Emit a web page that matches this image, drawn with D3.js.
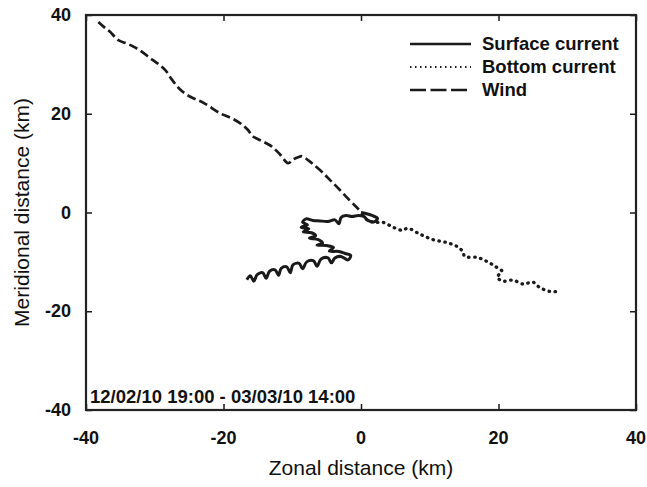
<!DOCTYPE html>
<html>
<head>
<meta charset="utf-8">
<script src="https://cdn.jsdelivr.net/npm/d3@7"></script>
<style>
  body { margin: 0; background: #fff; }
  svg { display: block; font-family: "Liberation Sans", Arial, sans-serif; }
  .tick-label { font-weight: bold; font-size: 18px; fill: #111; }
  .axis-title { font-size: 21px; fill: #111; }
  .legend-text { font-weight: bold; font-size: 18.5px; fill: #111; }
</style>
</head>
<body>
<svg id="chart"></svg>
<script>
// values (km)
var xTicks = [-40, -20, 0, 20, 40];
var yTicks = [-40, -20, 0, 20, 40];
var seriesNames = ["Surface current", "Bottom current", "Wind"];
var periodLabel = "12/02/10 19:00 - 03/03/10 14:00";

var windTrack = [
  [-38.2, 38.6], [-37.4, 37.6], [-36.5, 36.6], [-35.3, 34.9], [-34.2, 34.3], [-33.1, 33.6],
  [-31.9, 32.6], [-30.7, 31.3], [-29.6, 30.2], [-28.5, 28.9], [-27.5, 26.9], [-26.3, 24.9],
  [-24.9, 23.5], [-22.9, 22.2], [-20.5, 20.1], [-19.0, 19.2], [-17.6, 18.1], [-16.5, 16.8],
  [-15.7, 15.4], [-14.3, 14.4], [-13.0, 13.4], [-11.8, 11.8], [-10.6, 10.0], [-9.8, 10.8],
  [-9.1, 11.2], [-8.6, 11.4], [-7.6, 10.5], [-6.9, 9.7], [-5.5, 8.0], [-4.3, 6.3],
  [-3.1, 4.6], [-1.6, 2.4], [-0.6, 1.0], [-0.1, 0.3]
];

var surfaceTrack = [
  [0, 0], [0.7, -0.2], [1.6, -0.6], [2.4, -1.2], [1.9, -1.9], [1.0, -1.6], [0.4, -0.8],
  [-0.4, -0.6], [-1.3, -0.8], [-2.2, -0.6], [-2.9, -1.0], [-3.2, -2.3], [-3.8, -1.5],
  [-4.8, -1.8], [-6.0, -1.7], [-7.0, -1.6], [-8.0, -1.3], [-8.5, -2.0], [-7.8, -2.5],
  [-8.7, -3.0], [-7.6, -3.3], [-8.4, -3.9], [-7.2, -4.1], [-6.6, -4.7], [-7.5, -5.2],
  [-6.2, -5.5], [-5.6, -6.2], [-6.4, -6.6], [-5.0, -6.7], [-4.0, -7.1], [-4.6, -7.8],
  [-3.2, -7.9], [-2.3, -8.3], [-1.5, -8.7], [-1.9, -9.6], [-2.9, -8.9], [-3.8, -9.2],
  [-4.3, -10.2], [-4.8, -9.2], [-5.8, -9.4], [-6.4, -10.9], [-6.9, -9.8], [-7.9, -10.0],
  [-8.5, -11.4], [-9.0, -10.3], [-9.9, -10.6], [-10.3, -12.2], [-10.8, -11.0], [-11.6, -11.3],
  [-12.0, -12.7], [-12.5, -11.6], [-13.3, -11.9], [-13.8, -13.3], [-14.3, -12.2], [-15.1, -12.6],
  [-15.6, -13.9], [-16.1, -12.8], [-16.6, -13.6]
];

var bottomTrack = [
  [0.2, -0.4], [1.0, -1.6], [2.0, -2.0], [3.2, -2.0], [4.7, -3.0], [6.0, -3.6], [6.8, -3.2],
  [8.6, -4.4], [10.5, -5.5], [12.5, -6.1], [14.0, -6.9], [14.8, -7.9], [15.1, -8.9],
  [16.9, -9.1], [18.3, -9.9], [19.5, -10.9], [20.5, -11.9], [19.8, -13.1], [20.7, -13.9],
  [22.1, -13.7], [23.6, -14.5], [25.0, -14.1], [26.0, -15.2], [27.5, -16.0], [28.7, -16.0]
];

var width = 647, height = 487;
var margin = {left: 86, right: 11, top: 15, bottom: 77};

var svg = d3.select("#chart")
  .attr("width", width)
  .attr("height", height);

var x = d3.scaleLinear().domain([-40, 40]).range([margin.left, width - margin.right]);
var y = d3.scaleLinear().domain([-40, 40]).range([height - margin.bottom, margin.top]);

var line = d3.line()
  .x(function(d){ return x(d[0]); })
  .y(function(d){ return y(d[1]); })
  .curve(d3.curveCatmullRom);

var ink = "#1a1a1a";

// tracks
svg.append("path")
  .datum(windTrack)
  .attr("d", line)
  .attr("fill", "none")
  .attr("stroke", ink)
  .attr("stroke-width", 2.7)
  .attr("stroke-dasharray", "9,4");

svg.append("path")
  .datum(bottomTrack)
  .attr("d", line)
  .attr("fill", "none")
  .attr("stroke", ink)
  .attr("stroke-width", 3.3)
  .attr("stroke-linecap", "round")
  .attr("stroke-dasharray", "0.5,5.5");

svg.append("path")
  .datum(surfaceTrack)
  .attr("d", line)
  .attr("fill", "none")
  .attr("stroke", ink)
  .attr("stroke-width", 3)
  .attr("stroke-linejoin", "round");

// frame with inward ticks on all four sides
var axisG = svg.append("g");
axisG.append("g")
  .attr("transform", "translate(0," + y(-40) + ")")
  .call(d3.axisTop(x).tickValues(xTicks).tickSize(6).tickFormat(""));
axisG.append("g")
  .attr("transform", "translate(0," + y(40) + ")")
  .call(d3.axisBottom(x).tickValues(xTicks).tickSize(6).tickFormat(""));
axisG.append("g")
  .attr("transform", "translate(" + x(-40) + ",0)")
  .call(d3.axisRight(y).tickValues(yTicks).tickSize(6).tickFormat(""));
axisG.append("g")
  .attr("transform", "translate(" + x(40) + ",0)")
  .call(d3.axisLeft(y).tickValues(yTicks).tickSize(6).tickFormat(""));
axisG.selectAll(".domain").remove();
axisG.selectAll(".tick line").attr("stroke", ink).attr("stroke-width", 1.5);

svg.append("rect")
  .attr("x", x(-40))
  .attr("y", y(40))
  .attr("width", x(40) - x(-40))
  .attr("height", y(-40) - y(40))
  .attr("fill", "none")
  .attr("stroke", "#222")
  .attr("stroke-width", 2.2);

// tick labels
svg.selectAll(".xlab")
  .data(xTicks)
  .enter().append("text")
  .attr("class", "tick-label")
  .attr("x", function(d){ return x(d); })
  .attr("y", 444)
  .attr("text-anchor", "middle")
  .text(function(d){ return d; });

svg.selectAll(".ylab")
  .data(yTicks)
  .enter().append("text")
  .attr("class", "tick-label")
  .attr("x", 71)
  .attr("y", function(d){ return y(d) + 6; })
  .attr("text-anchor", "end")
  .text(function(d){ return d; });

// axis titles
svg.append("text")
  .attr("class", "axis-title")
  .attr("x", x(0))
  .attr("y", 475)
  .attr("text-anchor", "middle")
  .text("Zonal distance (km)");

svg.append("text")
  .attr("class", "axis-title")
  .attr("transform", "translate(29," + y(0) + ") rotate(-90)")
  .attr("text-anchor", "middle")
  .text("Meridional distance (km)");

// period label
svg.append("text")
  .attr("class", "legend-text")
  .attr("x", 90)
  .attr("y", 403)
  .text(periodLabel);

// legend
var dashes = ["none", "1.5,3.5", "16,4.5"];
var widths = [2.6, 2.2, 2.6];
var legend = svg.append("g");
seriesNames.forEach(function(name, i){
  var ly = 44 + i * 23;
  legend.append("line")
    .attr("x1", 410).attr("x2", 471)
    .attr("y1", ly).attr("y2", ly)
    .attr("stroke", ink)
    .attr("stroke-width", widths[i])
    .attr("stroke-dasharray", dashes[i]);
  legend.append("text")
    .attr("class", "legend-text")
    .attr("x", 482)
    .attr("y", ly + 6)
    .text(name);
});
</script>
</body>
</html>
